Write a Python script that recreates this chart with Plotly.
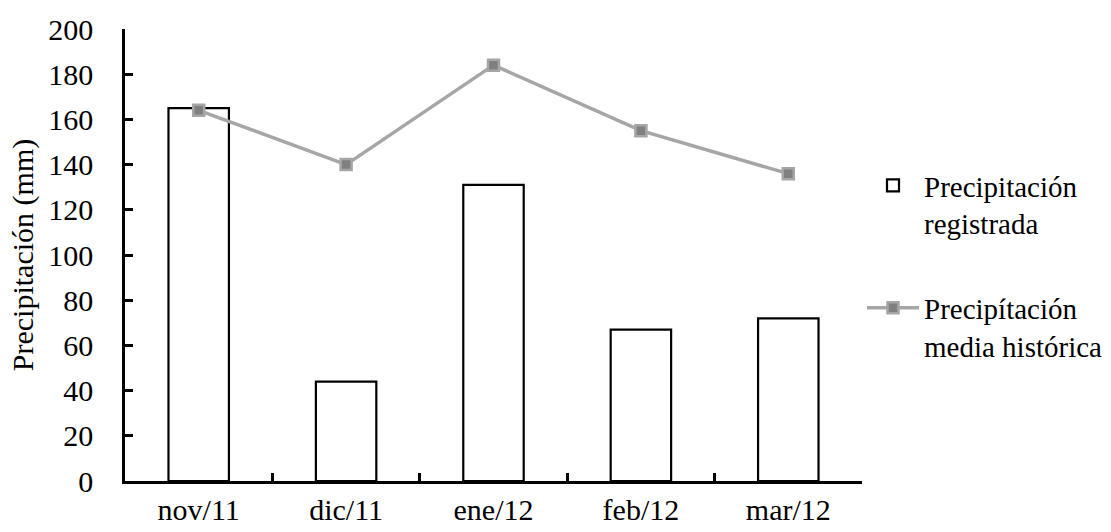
import plotly.graph_objects as go

categories = ["nov/11", "dic/11", "ene/12", "feb/12", "mar/12"]
registrada = [165, 44, 131, 67, 72]
media_historica = [164, 140, 184, 155, 136]
y_ticks = list(range(0, 201, 20))

FONT = "Liberation Serif"
FS = 30

fig = go.Figure()
fig.add_trace(go.Bar(
    x=categories, y=registrada,
    name="Precipitación<br>registrada",
    legendgroup="a",
    marker=dict(color="white", line=dict(color="black", width=2.2)),
    width=0.41,
))
fig.add_trace(go.Scatter(
    x=categories, y=media_historica,
    name="Precipítación<br>media histórica",
    legendgroup="b",
    mode="lines+markers",
    line=dict(color="#A6A6A6", width=3.5),
    marker=dict(symbol="square", size=11, color="#808080",
                line=dict(color="#A6A6A6", width=2.5)),
))

fig.update_layout(
    width=1111, height=532,
    margin=dict(l=125, r=249, t=29, b=51, autoexpand=False),
    plot_bgcolor="white", paper_bgcolor="white",
    font=dict(family=FONT, size=FS, color="black"),
    showlegend=True,
    legend=dict(
        x=1.0, y=0.71, xanchor="left", yanchor="top",
        font=dict(family=FONT, size=29, color="black"),
        traceorder="grouped", tracegroupgap=44, valign="top",
        itemwidth=52,
    ),
    bargap=0.59,
)
fig.update_xaxes(
    type="category", automargin=False,
    showline=True, linecolor="black", linewidth=2.5,
    ticks="inside", tickson="boundaries", ticklen=8, tickwidth=2.5, tickcolor="black",
    showgrid=False, zeroline=False,
    tickfont=dict(family=FONT, size=FS),
    ticklabelstandoff=0,
)
fig.update_yaxes(
    range=[0, 200], tickvals=y_ticks, automargin=False,
    showline=True, linecolor="black", linewidth=2.5,
    ticks="inside", ticklen=8, tickwidth=2.5, tickcolor="black",
    showgrid=False, zeroline=False,
    title=dict(text="Precipitación (mm)", font=dict(family=FONT, size=FS), standoff=6),
    tickfont=dict(family=FONT, size=FS),
    ticklabelstandoff=23,
)

fig.write_html("out.html")
